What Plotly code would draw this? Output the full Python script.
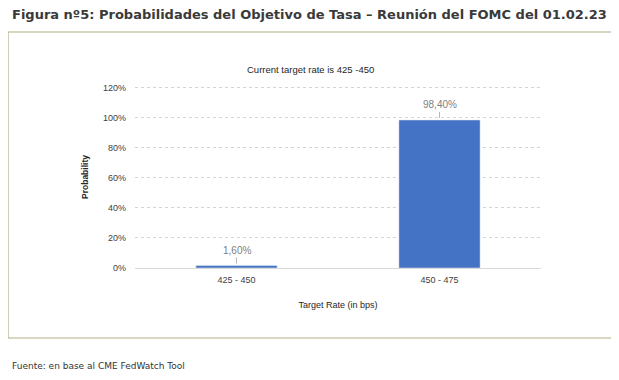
import plotly.graph_objects as go

categories = ["425 - 450", "450 - 475"]
probabilities = [1.60, 98.40]
y_ticks = [0, 20, 40, 60, 80, 100, 120]
y_tick_labels = ["0%", "20%", "40%", "60%", "80%", "100%", "120%"]

OFF = 8  # page body margin
W, H = 619 - OFF, 380 - OFF
L, R, T, B = 135 - OFF, 541 - OFF, 86 - OFF, 268 - OFF

def px(x):
    return (x - OFF - L) / (R - L)

def py(y):
    return (B - (y - OFF)) / (B - T)

fig = go.Figure()
fig.add_trace(go.Bar(
    x=categories, y=probabilities, marker_color="#4472C4", width=0.4,
    hoverinfo="skip"
))

ann = []
for c, v in zip(categories, probabilities):
    ann.append(dict(
        x=c, y=v, xref="x", yref="y",
        text=f"{v:.2f}%".replace(".", ","),
        showarrow=True, arrowhead=0, arrowwidth=0.8, arrowcolor="#a6a6a6",
        ax=0, ay=-8, standoff=2, startstandoff=0,
        font=dict(family="Liberation Sans", size=10, color="#7f7f7f"),
        yanchor="bottom"
    ))

ann.append(dict(x=px(10), y=py(14), xref="paper", yref="paper", xanchor="left", yanchor="middle",
                text="<b>Figura nº5: Probabilidades del Objetivo de Tasa – Reunión del FOMC del 01.02.23</b>",
                showarrow=False, font=dict(family="DejaVu Sans", size=13, color="#3a3a3a")))
ann.append(dict(x=px(310), y=py(69), xref="paper", yref="paper", xanchor="center", yanchor="middle",
                text="Current target rate is 425 -450", showarrow=False,
                font=dict(family="Liberation Sans", size=9.5, color="#262626")))
ann.append(dict(x=px(10), y=py(366), xref="paper", yref="paper", xanchor="left", yanchor="middle",
                text="Fuente: en base al CME FedWatch Tool", showarrow=False,
                font=dict(family="DejaVu Sans", size=9, color="#333333")))

fig.update_layout(
    width=W, height=H,
    margin=dict(l=L, r=W - R, t=T, b=H - B),
    paper_bgcolor="white", plot_bgcolor="white",
    showlegend=False, bargap=0.6,
    annotations=ann,
    shapes=[dict(type="rect", xref="paper", yref="paper",
                 x0=px(8), x1=px(613), y0=py(338), y1=py(32),
                 line=dict(color="#b3ad86", width=1.2), layer="below")],
    xaxis=dict(showgrid=False, showline=False, ticks="", zeroline=False,
               ticklabelstandoff=5,
               tickfont=dict(family="Liberation Sans", size=9, color="#404040"),
               title=dict(text="Target Rate (in bps)", standoff=17,
                          font=dict(family="Liberation Sans", size=9, color="#262626"))),
    yaxis=dict(range=[0, 121], tickvals=y_ticks, ticktext=y_tick_labels,
               showgrid=True, gridcolor="#d4d4d4", griddash="dot", gridwidth=1,
               zeroline=True, zerolinecolor="#d9d9d9", zerolinewidth=1,
               ticks="", ticklabelstandoff=8,
               tickfont=dict(family="Liberation Sans", size=9, color="#404040"),
               title=dict(text="<b>Probability</b>", standoff=12,
                          font=dict(family="Liberation Sans", size=8.5, color="#262626"))),
)

fig.write_html("out.html")
